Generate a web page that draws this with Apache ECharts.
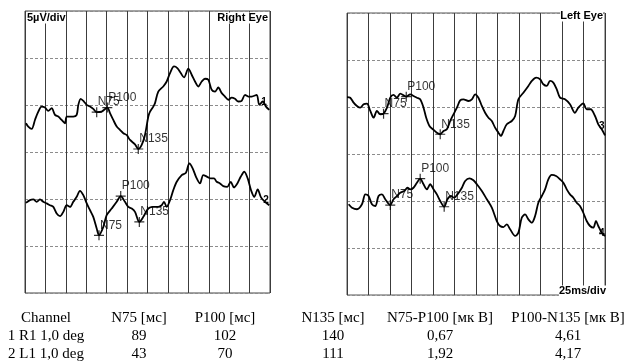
<!DOCTYPE html>
<html>
<head>
<meta charset="utf-8">
<script src="https://cdn.jsdelivr.net/npm/echarts@6/dist/echarts.min.js"></script>
<style>
  html, body { margin: 0; padding: 0; background: #fff; }
  #chart { width: 628px; height: 362px; }
</style>
</head>
<body>
<div id="chart"></div>
<script>
// time in ms (25 ms/div), amplitude in µV (5 µV/div)
const r1Time = [1.2,4.0,8.2,12.2,16.3,20.4,24.5,28.5,32.7,36.7,40.8,44.9,49.0,51.1,59.1,63.3,65.3,68.2,72.2,75.6,79.6,83.6,87.8,93.9,100.8,104.1,108.1,112.3,116.3,120.4,124.5,128.6,134.7,138.7,142.9,146.9,151.0,153.1,157.1,159.2,163.2,169.3,173.5,177.6,182.5,186.5,190.7,194.7,200.0,204.1,208.2,212.2,216.4,220.4,224.5,228.6,232.7,236.7,240.9,244.9,249.0,253.1,257.1,261.2,265.3,269.4,273.4,277.6,283.7,286.9,291.1,295.1,299.1];
const r1Amp = [3.06,2.70,2.45,3.41,4.30,4.83,4.73,4.37,4.66,3.95,3.77,3.41,3.06,3.77,3.77,3.95,5.01,5.66,5.37,5.01,4.83,4.59,4.24,4.30,4.73,4.13,3.41,2.70,2.35,2.00,1.81,1.28,0.82,0.32,0.75,1.81,3.77,4.30,4.83,5.20,6.43,6.97,7.50,8.40,9.10,8.93,8.40,7.93,8.86,8.22,7.50,6.97,7.50,7.79,7.68,6.62,6.43,6.86,6.26,5.90,5.55,5.79,5.66,5.37,5.44,6.08,5.90,5.90,6.08,5.01,5.37,4.83,4.48];

const r2Time = [1.2,6.1,10.2,14.3,18.4,22.4,26.6,30.6,34.7,38.8,42.9,46.9,51.1,55.1,59.1,63.3,67.3,71.4,75.6,79.6,83.6,87.8,90.6,95.9,100.0,106.2,112.3,117.2,122.4,126.5,130.7,134.7,140.0,144.9,151.0,157.1,163.2,167.4,170.2,173.5,177.6,181.6,185.8,191.9,197.1,201.2,205.3,209.4,214.3,218.3,223.2,227.4,231.4,234.7,238.8,242.8,247.7,251.9,255.9,260.0,264.1,268.5,272.7,276.7,280.8,284.9,289.0,293.9,299.1];
const r2Amp = [-5.41,-5.12,-5.05,-5.30,-5.05,-5.30,-5.47,-5.66,-5.84,-6.54,-6.83,-6.37,-5.66,-5.84,-5.30,-4.77,-4.13,-4.59,-5.47,-6.19,-6.90,-8.14,-8.86,-7.97,-6.72,-6.01,-5.30,-4.69,-5.30,-5.84,-6.01,-6.37,-7.44,-6.90,-6.01,-5.84,-5.84,-5.66,-5.30,-5.84,-5.12,-4.05,-3.17,-2.45,-2.21,-1.21,-1.74,-2.64,-3.34,-2.45,-2.64,-2.81,-2.81,-3.17,-3.34,-3.63,-3.70,-3.17,-3.77,-3.34,-2.64,-2.10,-2.81,-4.05,-4.77,-3.98,-4.83,-5.30,-5.66];

const l1Time = [0,3.8,7.7,11.6,15.4,19.3,23.2,27.1,30.9,34.8,38.7,42.5,46.5,50.3,54.1,58.1,61.9,68.9,73.5,77.3,81.3,85.1,89.0,92.1,95.9,99.9,104.5,108.4,112.2,116.1,120.0,123.8,127.8,131.6,135.4,141.2,145.2,149.0,152.8,156.8,160.6,164.5,168.4,172.2,176.1,178.9,181.9,185.8,191.6,195.5,199.3,205.1,210.9,214.9,219.9,224.5,228.3,232.3,236.1,239.9,243.9,247.7,253.5,259.3,265.1,269.0,274.8,278.7,283.4,288.4,292.2,296.2,300];
const l1Amp = [6.06,5.99,5.46,5.11,4.93,5.29,5.35,4.58,3.86,4.58,4.22,4.29,4.93,5.99,6.28,5.99,6.42,6.10,6.35,6.17,5.99,5.82,4.93,3.86,2.98,2.63,2.27,2.10,2.45,2.63,3.51,4.22,4.93,5.71,5.82,5.64,5.82,6.35,5.99,5.11,4.39,3.86,3.51,2.80,2.27,1.92,2.45,3.16,3.51,4.04,5.82,6.52,7.24,7.77,8.12,7.95,7.42,7.24,7.77,7.59,6.88,5.99,5.82,5.29,4.39,4.93,5.39,4.76,4.76,4.04,3.16,2.63,1.99];

const l2Time = [1.9,5.8,11.6,17.4,21.3,25.1,29.0,32.9,36.7,40.6,44.5,50.3,54.1,58.1,61.9,66.5,70.4,73.5,77.3,81.3,85.1,89.0,92.9,96.7,100.6,104.5,108.4,113.0,116.8,120.8,124.6,128.5,133.6,137.4,142.4,147.0,151.0,156.8,162.6,168.4,174.2,178.0,181.9,185.8,189.7,195.5,199.3,203.2,207.1,210.9,214.9,218.7,222.5,226.5,230.3,234.1,238.1,243.1,247.7,251.6,255.5,259.3,263.2,267.1,270.9,274.8,278.7,282.6,286.4,289.5,292.2,296.2,300];
const l2Amp = [-5.35,-5.71,-5.88,-5.35,-4.29,-4.47,-5.35,-5.53,-4.47,-4.29,-4.82,-5.43,-4.82,-4.47,-4.12,-3.94,-3.59,-3.76,-3.59,-3.05,-2.63,-3.22,-3.76,-3.22,-3.76,-4.29,-5.00,-5.61,-4.82,-4.47,-4.65,-4.29,-3.59,-2.87,-2.59,-2.80,-3.22,-3.94,-4.82,-5.71,-7.13,-7.66,-7.77,-7.48,-8.01,-8.72,-8.37,-6.78,-6.42,-6.95,-7.31,-6.60,-5.18,-4.47,-3.76,-2.69,-2.23,-2.34,-2.69,-3.05,-3.76,-4.29,-4.65,-5.18,-5.53,-6.25,-7.13,-7.66,-7.84,-7.13,-7.66,-8.37,-8.72];

// peak markers
const peakNames = ['N75', 'P100', 'N135'];
const r1PeakTime = [87.8, 100.8, 138.7], r1PeakAmp = [4.24, 4.73, 0.32];
const r2PeakTime = [90.6, 117.2, 140.0], r2PeakAmp = [-8.86, -4.69, -7.44];
const l1PeakTime = [42.5, 68.9, 108.4], l1PeakAmp = [4.29, 6.10, 2.10];
const l2PeakTime = [50.3, 85.1, 113.0], l2PeakAmp = [-5.43, -2.63, -5.61];

// table below the plots
const tableHeader = ['Channel', 'N75 [мс]', 'P100 [мс]', 'N135 [мс]', 'N75-P100 [мк В]', 'P100-N135 [мк В]'];
const channelNames = ['1 R1 1,0 deg', '2 L1 1,0 deg'];
const n75Lat = ['89', '43'];
const p100Lat = ['102', '70'];
const n135Lat = ['140', '111'];
const n75p100Amp = ['0,67', '1,92'];
const p100n135Amp = ['4,61', '4,17'];

const zip = (a, b) => a.map((t, i) => [t, b[i]]);
const plus = 'path://M4.4,0H5.6V4.4H10V5.6H5.6V10H4.4V5.6H0V4.4H4.4Z';

function xAx(i) {
  return {
    gridIndex: i, type: 'value', min: 0, max: 300, interval: 25,
    axisLine: { show: false }, axisTick: { show: false }, axisLabel: { show: false },
    splitLine: { show: true, lineStyle: { color: '#3c3c3c', width: 1 } }
  };
}
function yAx(i) {
  return {
    gridIndex: i, type: 'value', min: -15, max: 15, interval: 5,
    axisLine: { show: false }, axisTick: { show: false }, axisLabel: { show: false },
    splitLine: { show: true, lineStyle: { color: '#8c8c8c', width: 1, type: [3, 2] } }
  };
}

function trace(idx, time, amp, tag, off) {
  return {
    type: 'line', xAxisIndex: idx, yAxisIndex: idx,
    data: zip(time, amp), showSymbol: false, smooth: 0.3, silent: true,
    lineStyle: { color: '#000', width: 1.8 },
    endLabel: {
      show: true, formatter: tag, distance: 0, offset: off,
      fontSize: 10, fontWeight: 'bold', fontFamily: 'Liberation Sans', color: '#000'
    },
    z: 3
  };
}

function peaks(idx, time, amp) {
  return {
    type: 'scatter', xAxisIndex: idx, yAxisIndex: idx,
    data: time.map((t, i) => ({ name: peakNames[i], value: [t, amp[i]] })),
    symbol: plus, symbolSize: 10, itemStyle: { color: '#000' },
    label: {
      show: true, formatter: '{b}', position: 'right', distance: 0, offset: [-4, -10],
      fontSize: 12, fontFamily: 'Liberation Sans', color: '#000'
    },
    z: 4
  };
}

const colX = [46, 139, 225, 333, 440, 568];
const rowY = [318, 336, 354];
const tableFont = '15px "Liberation Serif"';
const cell = (x, y, text) => ({
  type: 'text', x: x, y: y,
  style: { text: text, font: tableFont, fill: '#000', align: 'center', verticalAlign: 'middle' }
});
const tableCells = [];
tableHeader.forEach((h, c) => tableCells.push(cell(colX[c], rowY[0], h)));
channelNames.forEach((name, r) => {
  const row = [name, n75Lat[r], p100Lat[r], n135Lat[r], n75p100Amp[r], p100n135Amp[r]];
  row.forEach((v, c) => tableCells.push(cell(colX[c], rowY[r + 1], v)));
});

const panelFont = 'bold 11px "Liberation Sans"';

const option = {
  backgroundColor: '#fff',
  animation: false,
  grid: [
    { left: 25, top: 11, width: 245, height: 282, show: true, borderColor: '#444', borderWidth: 1 },
    { left: 347, top: 13, width: 258, height: 282, show: true, borderColor: '#555', borderWidth: 1 }
  ],
  xAxis: [xAx(0), xAx(1)],
  yAxis: [yAx(0), yAx(1)],
  series: [
    trace(0, r1Time, r1Amp, '1', [-8, -8]),
    trace(0, r2Time, r2Amp, '2', [-6, -5]),
    trace(1, l1Time, l1Amp, '3', [-6, -9]),
    trace(1, l2Time, l2Amp, '4', [-6, -3]),
    peaks(0, r1PeakTime, r1PeakAmp),
    peaks(0, r2PeakTime, r2PeakAmp),
    peaks(1, l1PeakTime, l1PeakAmp),
    peaks(1, l2PeakTime, l2PeakAmp)
  ],
  graphic: [
    { type: 'text', x: 27, y: 18, z: 10, style: { text: '5µV/div', font: panelFont, fill: '#000', verticalAlign: 'middle', backgroundColor: '#fff' } },
    { type: 'text', x: 268, y: 18, z: 10, style: { text: 'Right Eye', font: panelFont, fill: '#000', align: 'right', verticalAlign: 'middle', backgroundColor: '#fff' } },
    { type: 'text', x: 603, y: 16, z: 10, style: { text: 'Left Eye', font: panelFont, fill: '#000', align: 'right', verticalAlign: 'middle', backgroundColor: '#fff' } },
    { type: 'text', x: 606, y: 291, z: 10, style: { text: '25ms/div', font: panelFont, fill: '#000', align: 'right', verticalAlign: 'middle', backgroundColor: '#fff' } }
  ].concat(tableCells)
};

const chart = echarts.init(document.getElementById('chart'));
chart.setOption(option);
</script>
</body>
</html>
